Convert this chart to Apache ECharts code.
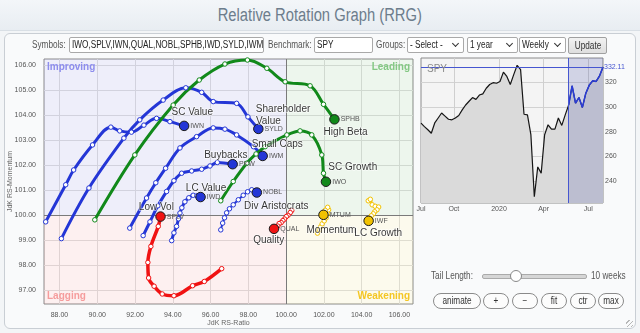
<!DOCTYPE html>
<html>
<head>
<meta charset="utf-8">
<script src="https://cdn.jsdelivr.net/npm/echarts@6/dist/echarts.min.js"></script>
<style>
html,body{margin:0;padding:0;width:640px;height:333px;overflow:hidden;background:#f3f5f7;
  font-family:"Liberation Sans",Arial,sans-serif;}
#head{position:absolute;left:0;top:0;width:640px;height:30px;background:linear-gradient(#f3f6f9,#e8edf2);border-bottom:1px solid #d9dfe5;}
#head h1{position:absolute;left:0;top:0;margin:0;width:780px;font-weight:normal;font-size:18px;color:#6d7d8c;text-align:center;line-height:31px;
  transform:scaleX(0.82);transform-origin:0 0;}
#panel{position:absolute;left:4px;top:33px;width:630px;height:294px;border:1px solid #c9ced4;border-radius:6px;background:#f9fafb;}
#chart{position:absolute;left:0;top:0;width:640px;height:333px;}
.n{display:inline-block;transform:scaleX(0.82);transform-origin:0 50%;}
.t{position:absolute;font-size:10px;color:#555;line-height:15px;white-space:nowrap;}
.box{position:absolute;top:37px;height:14px;border:1px solid #a9a9a9;background:#fff;font-size:10px;line-height:14px;color:#222;
  padding:0 2px;overflow:hidden;white-space:nowrap;border-radius:2px;}
.sel:after{content:"";position:absolute;right:5px;top:3px;width:4px;height:4px;border-right:1.3px solid #333;border-bottom:1.3px solid #333;transform:rotate(45deg);}
.btn{position:absolute;top:37px;height:15px;border:1px solid #a0a0a0;background:linear-gradient(#f2f2f2,#dedede);font-size:10px;line-height:15px;
  color:#333;border-radius:2px;overflow:hidden;}
.pill{position:absolute;top:293px;height:14px;border:1px solid #8a8a8a;border-radius:8px;background:#fcfcfc;font-size:10px;line-height:14px;color:#333;overflow:hidden;}
.pill .n,.btn .n{position:absolute;left:50%;top:0;transform:translateX(-50%) scaleX(0.82);transform-origin:50% 50%;}
</style>
</head>
<body>
<div id="head"><h1>Relative Rotation Graph (RRG)</h1></div>
<div id="panel"></div>
<div id="chart"></div>

<div class="t" style="left:32px;top:37px;"><span class="n">Symbols:</span></div>
<div class="box" style="left:69px;width:189px;"><span class="n">IWO,SPLV,IWN,QUAL,NOBL,SPHB,IWD,SYLD,IWM,PKW,MTUM,IWF</span></div>
<div class="t" style="left:268px;top:37px;"><span class="n">Benchmark:</span></div>
<div class="box" style="left:314px;width:53px;"><span class="n">SPY</span></div>
<div class="t" style="left:376px;top:37px;"><span class="n">Groups:</span></div>
<div class="box sel" style="left:407px;width:51px;"><span class="n">- Select -</span></div>
<div class="box sel" style="left:467px;width:45px;"><span class="n">1 year</span></div>
<div class="box sel" style="left:519px;width:41px;"><span class="n">Weekly</span></div>
<div class="btn" style="left:568px;width:37px;"><span class="n">Update</span></div>

<div class="t" style="left:431px;top:268px;"><span class="n">Tail Length:</span></div>
<div style="position:absolute;left:482px;top:274px;width:103px;height:3px;background:#d6d6d6;border:1px solid #aaa;border-radius:2px;"></div>
<div style="position:absolute;left:510px;top:270px;width:10px;height:10px;border-radius:50%;border:1px solid #888;background:#fff;"></div>
<div class="t" style="left:591px;top:268px;"><span class="n">10 weeks</span></div>

<div class="pill" style="left:433px;width:46px;"><span class="n">animate</span></div>
<div class="pill" style="left:483px;width:24px;"><span class="n">+</span></div>
<div class="pill" style="left:512px;width:24px;"><span class="n">&minus;</span></div>
<div class="pill" style="left:541px;width:24px;"><span class="n">fit</span></div>
<div class="pill" style="left:570px;width:24px;"><span class="n">ctr</span></div>
<div class="pill" style="left:598px;width:24px;"><span class="n">max</span></div>
<div style="position:absolute;left:626px;top:320px;width:7px;height:7px;background:repeating-linear-gradient(135deg,transparent 0 2px,#999 2px 3px);opacity:.7;"></div>

<script>
// ---- RRG tails: [JdK RS-Ratio, JdK RS-Momentum], oldest week first, current week last ----
const SPHB = [[89.87,99.81],[91.99,102.40],[94.02,104.39],[95.40,105.39],[96.76,106.03],[97.95,106.19],[98.98,105.86],[99.95,105.32],[101.27,105.16],[101.98,104.42],[102.56,103.82]];
const IWO  = [[96.54,100.57],[97.20,101.34],[97.92,102.07],[98.41,102.44],[98.89,102.73],[100.04,103.20],[100.74,103.36],[101.36,103.20],[101.89,102.40],[101.98,101.67],[102.11,101.33]];
const IWN  = [[87.27,99.73],[88.33,101.21],[88.75,101.80],[89.75,102.80],[90.72,103.51],[91.19,103.36],[91.81,103.31],[92.47,103.59],[93.14,103.86],[93.85,103.73],[94.60,103.56]];
const SYLD = [[88.10,99.06],[89.56,101.08],[91.41,103.07],[92.25,103.80],[93.49,104.59],[94.69,105.08],[95.53,104.90],[96.14,104.53],[97.38,104.46],[97.98,103.92],[98.53,103.44]];
const IWM  = [[91.72,99.48],[92.61,100.68],[93.10,101.29],[93.62,101.87],[94.38,102.68],[95.26,103.13],[96.14,103.48],[96.76,103.43],[97.38,103.20],[98.27,102.73],[98.76,102.36]];
const PKW  = [[92.43,99.18],[92.79,99.73],[93.21,100.37],[93.67,100.94],[94.06,101.37],[94.47,101.67],[95.00,101.76],[95.53,101.83],[95.97,101.96],[96.36,102.10],[97.17,102.03]];
const IWD  = [[93.94,98.98],[94.06,99.29],[94.20,99.55],[94.30,99.85],[94.38,100.08],[94.48,100.29],[94.64,100.53],[94.85,100.69],[95.08,100.79],[95.28,100.77],[95.47,100.72]];
const NOBL = [[96.54,99.41],[96.64,99.68],[96.74,99.89],[96.85,100.09],[97.00,100.25],[97.20,100.41],[97.47,100.61],[97.73,100.79],[97.96,100.93],[98.18,101.01],[98.45,100.90]];
const SPLV = [[96.59,97.86],[95.67,97.35],[95.05,97.18],[94.06,96.78],[93.44,96.85],[93.01,97.16],[92.72,97.49],[92.68,98.11],[92.84,98.75],[93.23,99.55],[93.35,99.94]];
const QUAL = [[100.30,100.18],[100.22,100.10],[100.10,99.99],[100.01,99.94],[99.92,99.84],[99.83,99.78],[99.74,99.70],[99.63,99.66],[99.56,99.56],[99.46,99.52],[99.36,99.45]];
const MTUM = [[101.66,99.28],[101.75,99.41],[101.83,99.53],[101.91,99.65],[102.02,99.77],[102.12,99.89],[102.20,100.07],[102.25,100.21],[102.20,100.31],[102.07,100.19],[101.98,100.01]];
const IWF  = [[104.35,100.57],[104.46,100.63],[104.56,100.41],[104.72,100.35],[104.90,100.32],[104.81,100.21],[104.69,100.13],[104.62,100.05],[104.51,99.97],[104.43,99.87],[104.37,99.77]];

// group captions placed on the RRG
const noteText = ['SC Value','Shareholder','Value','High Beta','SC Growth','Small Caps','Buybacks','LC Value','Div Aristocrats','Low Vol','Quality','Momentum','LC Growth'];
const noteX    = [95.03, 99.84, 99.06, 103.15, 103.53, 99.53, 96.81, 95.76, 99.48, 93.13, 99.08, 102.40, 104.88];
const noteY    = [104.10, 104.22, 103.76, 103.29, 101.91, 102.83, 102.40, 101.08, 100.34, 100.30, 98.99, 99.41, 99.28];

// axis ranges and tick labels of the RRG
const ratioRange = [87.18, 106.72];
const momRange = [96.45, 106.23];
const ratioTicks = [88, 90, 92, 94, 96, 98, 100, 102, 104, 106];
const momTicks = [97, 98, 99, 100, 101, 102, 103, 104, 105, 106];

// benchmark (SPY) weekly closes
const spyWeeks = ['2019-07-26','2019-08-02','2019-08-09','2019-08-16','2019-08-23','2019-08-30','2019-09-06','2019-09-13','2019-09-20','2019-09-27',
  '2019-10-04','2019-10-11','2019-10-18','2019-10-25','2019-11-01','2019-11-08','2019-11-15','2019-11-22','2019-11-29','2019-12-06',
  '2019-12-13','2019-12-20','2019-12-27','2020-01-03','2020-01-10','2020-01-17','2020-01-24','2020-01-31','2020-02-07','2020-02-14',
  '2020-02-21','2020-02-28','2020-03-06','2020-03-13','2020-03-20','2020-03-27','2020-04-03','2020-04-10','2020-04-17','2020-04-24',
  '2020-05-01','2020-05-08','2020-05-15','2020-05-22','2020-05-29','2020-06-05','2020-06-12','2020-06-19','2020-06-26','2020-07-03',
  '2020-07-10','2020-07-17','2020-07-24','2020-07-31'];
const spyClose = [286.8,284.0,281.5,278.7,287.0,291.0,295.0,292.5,290.0,289.5,
  291.0,293.0,297.5,301.5,304.5,307.5,306.0,309.5,310.5,315.0,
  318.0,319.5,319.0,320.5,328.0,324.5,318.0,326.0,333.5,330.0,
  294.0,293.5,277.5,227.5,251.5,246.5,277.5,285.5,282.0,282.0,
  291.0,285.0,293.5,301.5,317.0,303.0,307.5,299.5,311.0,317.5,
  321.0,320.5,325.0,332.11];
const spyTicks = [240, 260, 280, 300, 320];
const spyRange = [222.4, 339.4];
const dateLabels = ['2019-07-26','2019-10-01','2020-01-01','2020-04-01','2020-07-01'];
const dateText = ['Jul','Oct','2020','Apr','Jul'];
const tailWeeks = 10;

const NARROW = '"Liberation Sans",Arial,sans-serif';
const SANS = '"Liberation Sans",Arial,sans-serif';
const BLUE = '#2436d6', GREEN = '#11891a', RED = '#f01212', GOLD = '#f2c200';

const ts = function (d) { return Date.parse(d + 'T00:00:00Z'); };
const weekTs = spyWeeks.map(ts);
const labelTs = dateLabels.map(ts);

function trail(name, pts, color, width) {
  const last = pts.length - 1;
  return {
    type: 'line', name: name, xAxisIndex: 0, yAxisIndex: 0, z: 3,
    smooth: 0.35, symbol: 'circle', symbolSize: 4.5, showSymbol: true,
    lineStyle: { color: color, width: width },
    itemStyle: { color: '#fff', borderColor: color, borderWidth: 1 },
    data: pts.map(function (p, i) {
      if (i !== last) return p;
      return {
        value: p, symbolSize: 9.5,
        itemStyle: { color: color, borderColor: '#1b1b1b', borderWidth: 1 },
        label: { show: true, position: 'right', distance: 1, formatter: name,
                 fontFamily: NARROW, fontSize: 7, color: '#555' }
      };
    })
  };
}

const quadLabel = function (text, pos, color) {
  return { show: true, position: pos, distance: 3, formatter: text,
           fontFamily: SANS, fontSize: 10, fontWeight: 'bold', color: color };
};

const trails = [
  trail('IWN', IWN, BLUE, 3),
  trail('SYLD', SYLD, BLUE, 3),
  trail('IWM', IWM, BLUE, 3),
  trail('PKW', PKW, BLUE, 3),
  trail('IWD', IWD, BLUE, 3),
  trail('NOBL', NOBL, BLUE, 2),
  trail('SPHB', SPHB, GREEN, 3),
  trail('IWO', IWO, GREEN, 3),
  trail('SPLV', SPLV, RED, 3.5),
  trail('QUAL', QUAL, RED, 2),
  trail('MTUM', MTUM, GOLD, 2.5),
  trail('IWF', IWF, GOLD, 2.5)
];

// quadrant backgrounds, captions and the 100/100 cross on the first tail
trails[0].markArea = {
  silent: true, z: 1,
  data: [
    [{ xAxis: ratioRange[0], yAxis: 100, itemStyle: { color: 'rgba(90,90,210,0.10)' }, label: quadLabel('Improving', 'insideTopLeft', '#8d8ded') },
     { xAxis: 100, yAxis: momRange[1] }],
    [{ xAxis: 100, yAxis: 100, itemStyle: { color: 'rgba(60,150,60,0.09)' }, label: quadLabel('Leading', 'insideTopRight', '#84c884') },
     { xAxis: ratioRange[1], yAxis: momRange[1] }],
    [{ xAxis: ratioRange[0], yAxis: momRange[0], itemStyle: { color: 'rgba(230,60,60,0.08)' }, label: quadLabel('Lagging', 'insideBottomLeft', '#f59c9c') },
     { xAxis: 100, yAxis: 100 }],
    [{ xAxis: 100, yAxis: momRange[0], itemStyle: { color: 'rgba(220,200,60,0.09)' }, label: quadLabel('Weakening', 'insideBottomRight', '#f4c623') },
     { xAxis: ratioRange[1], yAxis: 100 }]
  ]
};
trails[0].markLine = {
  silent: true, z: 2, symbol: ['none', 'none'], label: { show: false },
  lineStyle: { color: '#7a7a7a', width: 1, type: 'solid' },
  data: [{ xAxis: 100 }, { yAxis: 100 }]
};

const notes = {
  type: 'scatter', xAxisIndex: 0, yAxisIndex: 0, z: 6, symbolSize: 0, silent: true,
  data: noteText.map(function (t, i) { return { name: t, value: [noteX[i], noteY[i]] }; }),
  label: { show: true, position: 'inside', formatter: '{b}', fontFamily: SANS, fontSize: 10,
           color: '#000', textBorderColor: 'rgba(255,255,255,0.8)', textBorderWidth: 1.5 }
};

const tailStart = spyWeeks.length - 1 - tailWeeks;
const lastIdx = spyWeeks.length - 1;
const spyAll = {
  type: 'line', xAxisIndex: 1, yAxisIndex: 1, z: 2, showSymbol: false, silent: true,
  data: weekTs.map(function (d, i) { return [d, spyClose[i]]; }),
  lineStyle: { color: '#151515', width: 1.2 },
  areaStyle: { color: '#dadada', origin: 'start', opacity: 1 },
  markArea: { silent: true, z: 3, itemStyle: { color: 'rgba(70,80,170,0.20)' },
              data: [[{ xAxis: weekTs[tailStart] }, { xAxis: weekTs[lastIdx] }]] }
};
const spyTail = {
  type: 'line', xAxisIndex: 1, yAxisIndex: 1, z: 4, showSymbol: false, silent: true,
  data: weekTs.slice(tailStart).map(function (d, i) { return [d, spyClose[tailStart + i]]; }),
  lineStyle: { color: '#2a3cd8', width: 1.5 },
  markLine: {
    silent: true, z: 5, symbol: ['none', 'none'],
    lineStyle: { color: '#4656d0', width: 1, type: 'solid' },
    data: [
      { yAxis: spyClose[lastIdx], label: { show: true, position: 'end', distance: 1, formatter: spyClose[lastIdx].toFixed(2),
        fontFamily: NARROW, fontSize: 7, color: '#4656d0' } },
      { xAxis: weekTs[tailStart], label: { show: false } }
    ]
  }
};

const tickLabel = { fontFamily: NARROW, fontSize: 7, color: '#555' };

const option = {
  animation: false,
  backgroundColor: 'transparent',
  textStyle: { fontFamily: SANS },
  title: [{ text: 'SPY', left: 422, top: 59, textStyle: { fontFamily: SANS, fontSize: 10, fontWeight: 'normal', color: '#8a8a8a' } }],
  grid: [
    { left: 44, top: 59, width: 369, height: 245, show: true, backgroundColor: '#ffffff', borderColor: '#8a8a8a', borderWidth: 1,
      containLabel: false, outerBoundsMode: 'none' },
    { left: 421, top: 58, width: 182, height: 145, show: true, backgroundColor: '#f4f4f4', borderColor: '#8a8a8a', borderWidth: 1,
      containLabel: false, outerBoundsMode: 'none' }
  ],
  xAxis: [
    { type: 'value', gridIndex: 0, min: ratioRange[0], max: ratioRange[1],
      axisLine: { show: false }, axisTick: { show: false, customValues: ratioTicks },
      axisLabel: Object.assign({ customValues: ratioTicks, margin: 8, formatter: function (v) { return v.toFixed(2); } }, tickLabel),
      splitLine: { show: true, lineStyle: { color: '#e0e0e0', width: 1 } },
      name: 'JdK RS-Ratio', nameLocation: 'middle', nameGap: 16, nameMoveOverlap: false,
      nameTextStyle: { fontFamily: NARROW, fontSize: 7, color: '#666' } },
    { type: 'value', gridIndex: 1, min: weekTs[0], max: weekTs[lastIdx],
      axisLine: { show: false },
      axisTick: { show: false, customValues: labelTs.slice(1) },
      axisLabel: Object.assign({ customValues: labelTs, margin: 3,
        formatter: function (v) {
          const k = labelTs.indexOf(v);
          return k >= 0 ? dateText[k] : '';
        } }, tickLabel),
      splitLine: { show: true, lineStyle: { color: '#cfcfcf', width: 1 } } }
  ],
  yAxis: [
    { type: 'value', gridIndex: 0, min: momRange[0], max: momRange[1],
      axisLine: { show: false }, axisTick: { show: false, customValues: momTicks },
      axisLabel: Object.assign({ customValues: momTicks, margin: 8, formatter: function (v) { return v.toFixed(2); } }, tickLabel),
      splitLine: { show: true, lineStyle: { color: '#e0e0e0', width: 1 } },
      name: 'JdK RS-Momentum', nameLocation: 'middle', nameGap: 30, nameRotate: 90, nameMoveOverlap: false,
      nameTextStyle: { fontFamily: NARROW, fontSize: 7, color: '#666' } },
    { type: 'value', gridIndex: 1, position: 'right', min: spyRange[0], max: spyRange[1],
      axisLine: { show: false }, axisTick: { show: false, customValues: spyTicks },
      axisLabel: Object.assign({ customValues: spyTicks, margin: 2 }, tickLabel),
      splitLine: { show: true, lineStyle: { color: '#d2d2d2', width: 1 } } }
  ],
  series: trails.concat([notes, spyAll, spyTail])
};

const chart = echarts.init(document.getElementById('chart'), null, { renderer: 'canvas' });
chart.setOption(option);
</script>
</body>
</html>
